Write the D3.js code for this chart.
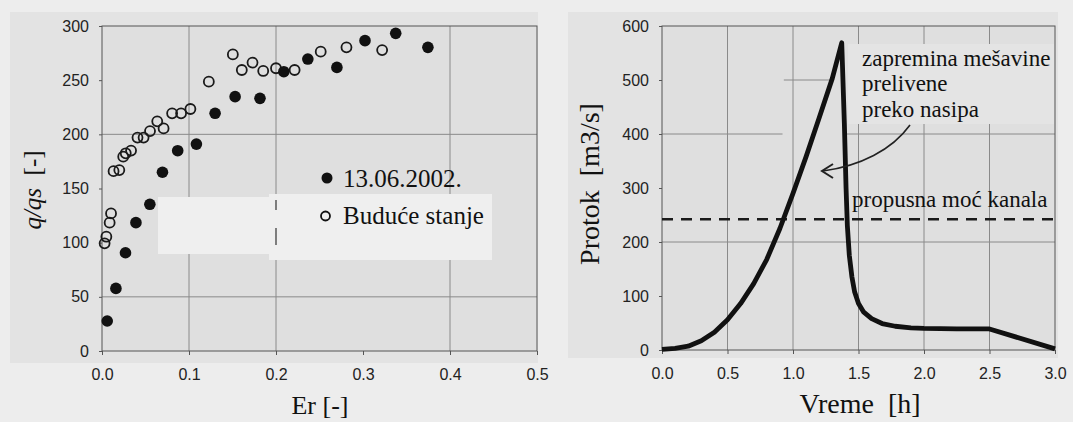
<!DOCTYPE html>
<html lang="sr">
<head>
<meta charset="utf-8">
<title>q/qs i Protok</title>
<script src="https://d3js.org/d3.v7.min.js"></script>
<style>
  body { margin: 0; background: #ededed; }
  svg { display: block; }
  .tick text { font-family: "Liberation Sans", Arial, sans-serif; font-size: 16px; fill: #222; }
  .ser { font-family: "Liberation Serif", "Times New Roman", serif; fill: #111; }
</style>
</head>
<body>
<div id="chart"></div>
<script>
// ---- podaci: levi dijagram (q/qs u funkciji Er)
var erMereno = [0.006, 0.016, 0.027, 0.039, 0.055, 0.0695, 0.087, 0.1085, 0.130, 0.153, 0.1816, 0.209, 0.2366, 0.270, 0.3023, 0.3376, 0.3746];
var qMereno  = [27.7, 57.8, 90.7, 118.5, 135.4, 165, 184.9, 191, 219.4, 234.8, 233.2, 257.8, 269.5, 261.8, 286.5, 293.2, 280.3];
var erBuduce = [0.003, 0.005, 0.0088, 0.0104, 0.0133, 0.0199, 0.0244, 0.0273, 0.0334, 0.0408, 0.0478, 0.0552, 0.0635, 0.0708, 0.0806, 0.0909, 0.1016, 0.1228, 0.1504, 0.1607, 0.173, 0.1853, 0.200, 0.2214, 0.2514, 0.281, 0.322];
var qBuduce  = [99.4, 105.5, 118.5, 127, 166, 167, 179.4, 182.5, 185, 197, 197, 203, 212, 205.5, 219.4, 219.4, 223.4, 248.6, 273.8, 259.4, 266.2, 258.5, 261, 259.4, 276.3, 280.3, 277.8];
var legendaLevo = ["13.06.2002.", "Budu\u0107e stanje"];
var xTickLevo = [0, 0.1, 0.2, 0.3, 0.4, 0.5];
var yTickLevo = [0, 50, 100, 150, 200, 250, 300];
var xMrezaLevo = [0.1, 0.2, 0.4];
var yMrezaLevo = [50, 200];

// ---- podaci: desni dijagram (hidrogram preliva)
var vreme  = [0, 0.1, 0.2, 0.3, 0.4, 0.5, 0.6, 0.7, 0.8, 0.9, 1.0, 1.1, 1.2, 1.3, 1.372,
              1.392, 1.405, 1.415, 1.43, 1.45, 1.47, 1.50, 1.54, 1.60, 1.68, 1.78, 1.9, 2.0, 2.25, 2.5, 3.0];
var protok = [1, 3, 7, 17, 33, 56, 86, 123, 168, 225, 290, 358, 430, 503, 569,
              420, 300, 230, 175, 135, 108, 86, 70, 58, 49, 44, 41, 40, 39, 39, 2];
var propusnaMoc = 242;
var natpisPreliv = ["zapremina me\u0161avine", "prelivene", "preko nasipa"];
var natpisKanal = "propusna mo\u0107 kanala";
var xTickDesno = [0, 0.5, 1.0, 1.5, 2.0, 2.5, 3.0];
var yTickDesno = [0, 100, 200, 300, 400, 500, 600];
var xMrezaDesno = [0.5, 1.0, 1.5, 2.0, 2.5];
// vidljivi delovi horizontalne mreze: [vrednost, od, do]
var yMrezaDesno = [[200, 0, 3], [400, 0, 0.92], [400, 1.41, 3], [500, 0.93, 1.28]];

var W = 1073, H = 422;
var svg = d3.select("#chart").append("svg").attr("width", W).attr("height", H);

svg.append("rect").attr("width", W).attr("height", H).attr("fill", "#ededed");
// skenirane povrsine
svg.append("rect").attr("x", 10).attr("y", 12).attr("width", 528).attr("height", 351).attr("fill", "#e3e3e3");
svg.append("rect").attr("x", 568).attr("y", 12).attr("width", 490).attr("height", 346).attr("fill", "#e3e3e3");

function osnova(x0, x1, y0, y1, xs, ys, xt, yt, xg) {
    var g = svg.append("g");
    g.append("rect").attr("x", x0).attr("y", y0).attr("width", x1 - x0).attr("height", y1 - y0)
        .attr("fill", "#dfdfdf");
    g.selectAll(".vg").data(xg).enter().append("line")
        .attr("y1", y0).attr("y2", y1)
        .attr("x1", function(d) { return xs(d); }).attr("x2", function(d) { return xs(d); })
        .attr("stroke", "#8a8a8a").attr("stroke-width", 1);

    var ax = g.append("g").attr("transform", "translate(0," + y1 + ")")
        .call(d3.axisBottom(xs).tickValues(xt).tickFormat(d3.format(".1f")).tickSize(4).tickPadding(14));
    var ay = g.append("g").attr("transform", "translate(" + x0 + ",0)")
        .call(d3.axisLeft(ys).tickValues(yt).tickSize(3).tickPadding(10));
    [ax, ay].forEach(function(a) {
        a.select(".domain").remove();
        a.selectAll("line").attr("stroke", "#555");
    });
    return g;
}

// ================= levi dijagram =================
var xL = d3.scaleLinear().domain([0, 0.5]).range([102, 537]);
var yL = d3.scaleLinear().domain([0, 300]).range([351, 26]);
var gL = osnova(102, 537, 26, 351, xL, yL, xTickLevo, yTickLevo, xMrezaLevo);

gL.selectAll(".hg").data(yMrezaLevo).enter().append("line")
    .attr("x1", xL(0)).attr("x2", xL(0.5))
    .attr("y1", function(d) { return yL(d); }).attr("y2", function(d) { return yL(d); })
    .attr("stroke", "#8a8a8a").attr("stroke-width", 1);

// svetliji pravougaonici (ostatak okvira legende)
gL.append("rect").attr("x", 158).attr("y", 197).attr("width", 111).attr("height", 57).attr("fill", "#efefef");
gL.append("rect").attr("x", 269).attr("y", 194).attr("width", 223).attr("height", 66).attr("fill", "#efefef");
gL.append("line").attr("x1", 276).attr("x2", 276).attr("y1", 200).attr("y2", 245)
    .attr("stroke", "#333").attr("stroke-width", 1.2).attr("stroke-dasharray", "10,18,17");

gL.append("rect").attr("x", 102).attr("y", 26).attr("width", 435).attr("height", 325)
    .attr("fill", "none").attr("stroke", "#555").attr("stroke-width", 1);

gL.selectAll(".buduce").data(erBuduce).enter().append("circle")
    .attr("cx", function(d) { return xL(d); })
    .attr("cy", function(d, i) { return yL(qBuduce[i]); })
    .attr("r", 5).attr("fill", "none").attr("stroke", "#1a1a1a").attr("stroke-width", 1.8);
gL.selectAll(".mereno").data(erMereno).enter().append("circle")
    .attr("cx", function(d) { return xL(d); })
    .attr("cy", function(d, i) { return yL(qMereno[i]); })
    .attr("r", 5.8).attr("fill", "#111");

// legenda
gL.append("circle").attr("cx", 327).attr("cy", 178).attr("r", 5.5).attr("fill", "#111");
gL.append("circle").attr("cx", 325.5).attr("cy", 216).attr("r", 4.5).attr("fill", "none")
    .attr("stroke", "#111").attr("stroke-width", 1.8);
gL.append("text").attr("class", "ser").attr("x", 343).attr("y", 187).style("font-size", "25px").text(legendaLevo[0]);
gL.append("text").attr("class", "ser").attr("x", 343).attr("y", 224).style("font-size", "25px").text(legendaLevo[1]);

// naslovi osa
gL.append("text").attr("class", "ser").attr("x", 320).attr("y", 414)
    .attr("text-anchor", "middle").style("font-size", "26px").text("Er [-]");
var tq = gL.append("text").attr("class", "ser")
    .attr("transform", "translate(41,190) rotate(-90)")
    .attr("text-anchor", "middle").style("font-size", "25px");
tq.append("tspan").style("font-style", "italic").text("q/qs");
tq.append("tspan").text("\u00a0\u00a0[-]");

// ================= desni dijagram =================
var xD = d3.scaleLinear().domain([0, 3]).range([662, 1055]);
var yD = d3.scaleLinear().domain([0, 600]).range([350, 26]);
var gD = osnova(662, 1055, 26, 350, xD, yD, xTickDesno, yTickDesno, xMrezaDesno);

// pozadina natpisa prekriva mrezu
gD.append("rect").attr("x", 848).attr("y", 44).attr("width", 206).attr("height", 80).attr("fill", "#e4e4e4");

gD.selectAll(".hg").data(yMrezaDesno).enter().append("line")
    .attr("x1", function(d) { return xD(d[1]); }).attr("x2", function(d) { return xD(d[2]); })
    .attr("y1", function(d) { return yD(d[0]); }).attr("y2", function(d) { return yD(d[0]); })
    .attr("stroke", "#8a8a8a").attr("stroke-width", 1);

gD.append("rect").attr("x", 662).attr("y", 26).attr("width", 393).attr("height", 324)
    .attr("fill", "none").attr("stroke", "#555").attr("stroke-width", 1);

gD.append("line").attr("x1", xD(0)).attr("x2", xD(3))
    .attr("y1", yD(propusnaMoc)).attr("y2", yD(propusnaMoc))
    .attr("stroke", "#1a1a1a").attr("stroke-width", 2.6).attr("stroke-dasharray", "11,8");

var linija = d3.line()
    .x(function(d, i) { return xD(vreme[i]); })
    .y(function(d) { return yD(d); })
    .curve(d3.curveLinear);
gD.append("path").datum(protok).attr("d", linija)
    .attr("fill", "none").attr("stroke", "#111").attr("stroke-width", 4.8)
    .attr("stroke-linejoin", "round");

natpisPreliv.forEach(function(t, i) {
    gD.append("text").attr("class", "ser").attr("x", 862).attr("y", 66 + i * 25.3)
        .style("font-size", "23px").text(t);
});
gD.append("text").attr("class", "ser").attr("x", 852).attr("y", 207)
    .style("font-size", "23px").text(natpisKanal);

// strelica
gD.append("path").attr("d", "M910,125 C892,150 860,166 823,171")
    .attr("fill", "none").attr("stroke", "#222").attr("stroke-width", 1.6);
gD.append("path").attr("d", "M833,164 L822,171 L833,178")
    .attr("fill", "none").attr("stroke", "#222").attr("stroke-width", 2);

gD.append("text").attr("class", "ser").attr("x", 860).attr("y", 413)
    .attr("text-anchor", "middle").style("font-size", "28px").text("Vreme\u00a0\u00a0[h]");
gD.append("text").attr("class", "ser")
    .attr("transform", "translate(599,184) rotate(-90)")
    .attr("text-anchor", "middle").style("font-size", "28px").text("Protok\u00a0\u00a0[m3/s]");
</script>
</body>
</html>
